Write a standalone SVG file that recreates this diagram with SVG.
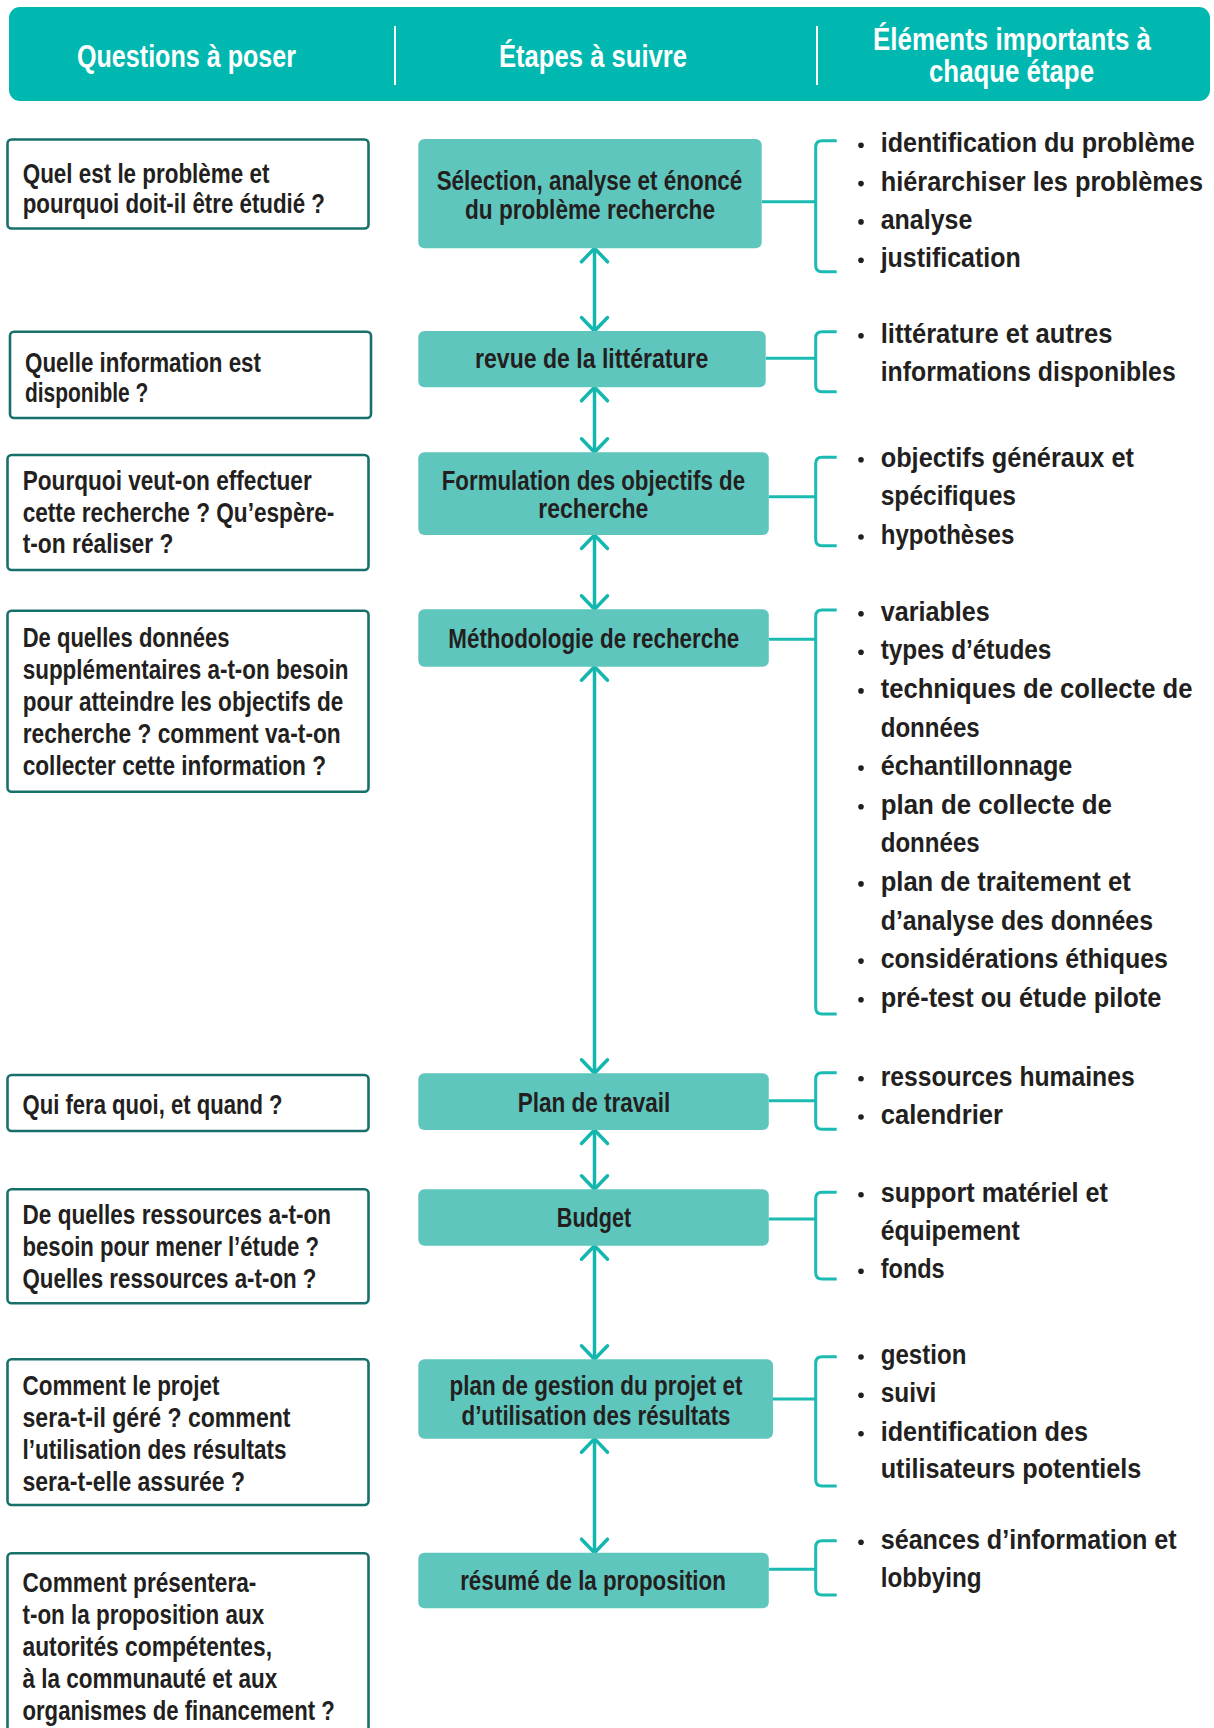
<svg xmlns="http://www.w3.org/2000/svg" width="1214" height="1728" viewBox="0 0 1214 1728">
<style>
text{font-family:"Liberation Sans Narrow","Liberation Sans",Arial,sans-serif;font-weight:bold;}
.hdr{font-size:32px;fill:#ffffff;text-anchor:middle;}
.t{font-size:28px;fill:#231f20;}
.c{text-anchor:middle;}
.q{fill:#ffffff;stroke:#18706b;stroke-width:2.6;}
.s{fill:#5fc6be;}
.arr{stroke:#13b7af;stroke-width:3.5;fill:none;}
.lnk{stroke:#1bbab2;stroke-width:3;fill:none;}
.dot{fill:#231f20;}
</style>
<defs>
<marker id="ah" viewBox="-16 -16 20 32" refX="0" refY="0" markerWidth="20" markerHeight="32" markerUnits="userSpaceOnUse" orient="auto-start-reverse" overflow="visible">
<path d="M-13.5,-13 L0,0 L-13.5,13" fill="none" stroke="#13b7af" stroke-width="3.5" stroke-linecap="round" stroke-linejoin="round"/>
</marker>
</defs>

<g id="header">
<rect x="9" y="7" width="1201" height="94" rx="11" fill="#00b8b0"/>
<line x1="395" y1="26" x2="395" y2="85" stroke="#ffffff" stroke-width="2"/>
<line x1="817" y1="26" x2="817" y2="85" stroke="#ffffff" stroke-width="2"/>
<text class="hdr" x="186.5" y="66.7" textLength="219" lengthAdjust="spacingAndGlyphs">Questions à poser</text>
<text class="hdr" x="593" y="66.7" textLength="188" lengthAdjust="spacingAndGlyphs">Étapes à suivre</text>
<text class="hdr" x="1012" y="49.5" textLength="278" lengthAdjust="spacingAndGlyphs">Éléments importants à</text>
<text class="hdr" x="1011.5" y="81.5" textLength="165" lengthAdjust="spacingAndGlyphs">chaque étape</text>
</g>

<g id="connectors">
<line class="arr" x1="594.5" y1="248.3" x2="594.5" y2="331" marker-start="url(#ah)" marker-end="url(#ah)"/>
<line class="arr" x1="594.5" y1="387.3" x2="594.5" y2="452.3" marker-start="url(#ah)" marker-end="url(#ah)"/>
<line class="arr" x1="594.5" y1="535" x2="594.5" y2="609.3" marker-start="url(#ah)" marker-end="url(#ah)"/>
<line class="arr" x1="594.5" y1="666.7" x2="594.5" y2="1073.3" marker-start="url(#ah)" marker-end="url(#ah)"/>
<line class="arr" x1="594.5" y1="1130" x2="594.5" y2="1189.3" marker-start="url(#ah)" marker-end="url(#ah)"/>
<line class="arr" x1="594.5" y1="1245.7" x2="594.5" y2="1359.3" marker-start="url(#ah)" marker-end="url(#ah)"/>
<line class="arr" x1="594.5" y1="1438.7" x2="594.5" y2="1552.7" marker-start="url(#ah)" marker-end="url(#ah)"/>

<line class="lnk" x1="761.7" y1="201.7" x2="815.7" y2="201.7"/>
<line class="lnk" x1="765.7" y1="358.3" x2="815.7" y2="358.3"/>
<line class="lnk" x1="768.8" y1="496.7" x2="815.7" y2="496.7"/>
<line class="lnk" x1="768.8" y1="639.3" x2="815.7" y2="639.3"/>
<line class="lnk" x1="768.8" y1="1100.7" x2="815.7" y2="1100.7"/>
<line class="lnk" x1="768.8" y1="1219" x2="815.7" y2="1219"/>
<line class="lnk" x1="773" y1="1399" x2="815.7" y2="1399"/>
<line class="lnk" x1="768.8" y1="1569.3" x2="815.7" y2="1569.3"/>

<path class="lnk" d="M836.7,140.7 H822 Q815.7,140.7 815.7,147 V265.4 Q815.7,271.7 822,271.7 H836.7"/>
<path class="lnk" d="M836.7,331.7 H822 Q815.7,331.7 815.7,338 V385.4 Q815.7,391.7 822,391.7 H836.7"/>
<path class="lnk" d="M836.7,457.3 H822 Q815.7,457.3 815.7,463.6 V539.4 Q815.7,545.7 822,545.7 H836.7"/>
<path class="lnk" d="M836.7,610 H822 Q815.7,610 815.7,616.3 V1007.7 Q815.7,1014 822,1014 H836.7"/>
<path class="lnk" d="M836.7,1072.7 H822 Q815.7,1072.7 815.7,1079 V1123 Q815.7,1129.3 822,1129.3 H836.7"/>
<path class="lnk" d="M836.7,1192.3 H822 Q815.7,1192.3 815.7,1198.6 V1272.7 Q815.7,1279 822,1279 H836.7"/>
<path class="lnk" d="M836.7,1356.7 H822 Q815.7,1356.7 815.7,1363 V1479.7 Q815.7,1486 822,1486 H836.7"/>
<path class="lnk" d="M836.7,1540.7 H822 Q815.7,1540.7 815.7,1547 V1588.7 Q815.7,1595 822,1595 H836.7"/>
</g>

<g id="q1"><rect class="q" x="7.5" y="139.5" width="361" height="89" rx="4"/>
<text class="t" x="22.7" y="183.3" textLength="246.7" lengthAdjust="spacingAndGlyphs">Quel est le problème et</text>
<text class="t" x="22.7" y="213" textLength="302.3" lengthAdjust="spacingAndGlyphs">pourquoi doit-il être étudié ?</text></g>

<g id="q2"><rect class="q" x="10" y="331.7" width="361" height="86.3" rx="4"/>
<text class="t" x="25" y="371.7" textLength="236" lengthAdjust="spacingAndGlyphs">Quelle information est</text>
<text class="t" x="25" y="401.7" textLength="123.3" lengthAdjust="spacingAndGlyphs">disponible ?</text></g>

<g id="q3"><rect class="q" x="7.5" y="455" width="361" height="115" rx="4"/>
<text class="t" x="22.7" y="490" textLength="289" lengthAdjust="spacingAndGlyphs">Pourquoi veut-on effectuer</text>
<text class="t" x="22.7" y="521.7" textLength="311.7" lengthAdjust="spacingAndGlyphs">cette recherche ? Qu’espère-</text>
<text class="t" x="22.7" y="553.3" textLength="150.7" lengthAdjust="spacingAndGlyphs">t-on réaliser ?</text></g>

<g id="q4"><rect class="q" x="7.5" y="610.7" width="361" height="181" rx="4"/>
<text class="t" x="22.7" y="646.7" textLength="206.7" lengthAdjust="spacingAndGlyphs">De quelles données</text>
<text class="t" x="22.7" y="679.3" textLength="325.7" lengthAdjust="spacingAndGlyphs">supplémentaires a-t-on besoin</text>
<text class="t" x="22.7" y="710.7" textLength="320.7" lengthAdjust="spacingAndGlyphs">pour atteindre les objectifs de</text>
<text class="t" x="22.7" y="743.3" textLength="318" lengthAdjust="spacingAndGlyphs">recherche ? comment va-t-on</text>
<text class="t" x="22.7" y="775" textLength="303.3" lengthAdjust="spacingAndGlyphs">collecter cette information ?</text></g>

<g id="q5"><rect class="q" x="7.5" y="1075" width="361" height="56" rx="4"/>
<text class="t" x="22.5" y="1114.3" textLength="260" lengthAdjust="spacingAndGlyphs">Qui fera quoi, et quand ?</text></g>

<g id="q6"><rect class="q" x="7.5" y="1189.3" width="361" height="114" rx="4"/>
<text class="t" x="22.5" y="1224.3" textLength="308.6" lengthAdjust="spacingAndGlyphs">De quelles ressources a-t-on</text>
<text class="t" x="22.5" y="1255.7" textLength="296.5" lengthAdjust="spacingAndGlyphs">besoin pour mener l’étude ?</text>
<text class="t" x="22.5" y="1287.7" textLength="294" lengthAdjust="spacingAndGlyphs">Quelles ressources a-t-on ?</text></g>

<g id="q7"><rect class="q" x="7.5" y="1359.3" width="361" height="145.7" rx="4"/>
<text class="t" x="22.5" y="1395" textLength="197" lengthAdjust="spacingAndGlyphs">Comment le projet</text>
<text class="t" x="22.5" y="1427" textLength="268" lengthAdjust="spacingAndGlyphs">sera-t-il géré ? comment</text>
<text class="t" x="22.5" y="1459" textLength="264" lengthAdjust="spacingAndGlyphs">l’utilisation des résultats</text>
<text class="t" x="22.5" y="1491" textLength="222.5" lengthAdjust="spacingAndGlyphs">sera-t-elle assurée ?</text></g>

<g id="q8"><rect class="q" x="7.5" y="1553.3" width="361" height="200" rx="4"/>
<text class="t" x="22.5" y="1591.7" textLength="233.8" lengthAdjust="spacingAndGlyphs">Comment présentera-</text>
<text class="t" x="22.5" y="1624" textLength="241.6" lengthAdjust="spacingAndGlyphs">t-on la proposition aux</text>
<text class="t" x="22.5" y="1656" textLength="249.5" lengthAdjust="spacingAndGlyphs">autorités compétentes,</text>
<text class="t" x="22.5" y="1688.3" textLength="254.7" lengthAdjust="spacingAndGlyphs">à la communauté et aux</text>
<text class="t" x="22.5" y="1720" textLength="312.2" lengthAdjust="spacingAndGlyphs">organismes de financement ?</text></g>

<g id="s1"><rect class="s" x="418.3" y="139" width="343.4" height="109.3" rx="6"/>
<text class="t c" x="589.5" y="190" textLength="305.7" lengthAdjust="spacingAndGlyphs">Sélection, analyse et énoncé</text>
<text class="t c" x="590" y="219" textLength="250" lengthAdjust="spacingAndGlyphs">du problème recherche</text></g>

<g id="s2"><rect class="s" x="418.3" y="331" width="347.4" height="56.3" rx="6"/>
<text class="t c" x="591.7" y="368.3" textLength="233.3" lengthAdjust="spacingAndGlyphs">revue de la littérature</text></g>

<g id="s3"><rect class="s" x="418.3" y="452.3" width="350.5" height="82.7" rx="6"/>
<text class="t c" x="593.4" y="490" textLength="303.3" lengthAdjust="spacingAndGlyphs">Formulation des objectifs de</text>
<text class="t c" x="593.3" y="518.3" textLength="110" lengthAdjust="spacingAndGlyphs">recherche</text></g>

<g id="s4"><rect class="s" x="418.3" y="609.3" width="350.5" height="57.4" rx="6"/>
<text class="t c" x="593.8" y="648.3" textLength="291" lengthAdjust="spacingAndGlyphs">Méthodologie de recherche</text></g>

<g id="s5"><rect class="s" x="418.3" y="1073.3" width="350.5" height="56.7" rx="6"/>
<text class="t c" x="594" y="1111.7" textLength="152.7" lengthAdjust="spacingAndGlyphs">Plan de travail</text></g>

<g id="s6"><rect class="s" x="418.3" y="1189.3" width="350.5" height="56.4" rx="6"/>
<text class="t c" x="594" y="1226.7" textLength="74.3" lengthAdjust="spacingAndGlyphs">Budget</text></g>

<g id="s7"><rect class="s" x="418.3" y="1359.3" width="354.7" height="79.4" rx="6"/>
<text class="t c" x="596" y="1395" textLength="293" lengthAdjust="spacingAndGlyphs">plan de gestion du projet et</text>
<text class="t c" x="596" y="1424.5" textLength="269" lengthAdjust="spacingAndGlyphs">d’utilisation des résultats</text></g>

<g id="s8"><rect class="s" x="418.3" y="1552.7" width="350.5" height="55.6" rx="6"/>
<text class="t c" x="593" y="1590" textLength="265.7" lengthAdjust="spacingAndGlyphs">résumé de la proposition</text></g>

<g id="e1">
<circle class="dot" cx="861" cy="145.3" r="2.8"/><text class="t" x="880.7" y="152.3" textLength="314" lengthAdjust="spacingAndGlyphs">identification du problème</text>
<circle class="dot" cx="861" cy="183.6" r="2.8"/><text class="t" x="880.7" y="190.6" textLength="322.3" lengthAdjust="spacingAndGlyphs">hiérarchiser les problèmes</text>
<circle class="dot" cx="861" cy="221.9" r="2.8"/><text class="t" x="880.7" y="228.9" textLength="91.7" lengthAdjust="spacingAndGlyphs">analyse</text>
<circle class="dot" cx="861" cy="260.2" r="2.8"/><text class="t" x="880.7" y="267.2" textLength="140" lengthAdjust="spacingAndGlyphs">justification</text>
</g>

<g id="e2">
<circle class="dot" cx="861" cy="335.7" r="2.8"/><text class="t" x="880.7" y="342.7" textLength="231.7" lengthAdjust="spacingAndGlyphs">littérature et autres</text>
<text class="t" x="880.7" y="380.7" textLength="295" lengthAdjust="spacingAndGlyphs">informations disponibles</text>
</g>

<g id="e3">
<circle class="dot" cx="861" cy="459.7" r="2.8"/><text class="t" x="880.7" y="466.7" textLength="253.3" lengthAdjust="spacingAndGlyphs">objectifs généraux et</text>
<text class="t" x="880.7" y="505.3" textLength="135.3" lengthAdjust="spacingAndGlyphs">spécifiques</text>
<circle class="dot" cx="861" cy="537" r="2.8"/><text class="t" x="880.7" y="544" textLength="133.7" lengthAdjust="spacingAndGlyphs">hypothèses</text>
</g>

<g id="e4">
<circle class="dot" cx="861" cy="613.7" r="2.8"/><text class="t" x="880.7" y="620.7" textLength="109" lengthAdjust="spacingAndGlyphs">variables</text>
<circle class="dot" cx="861" cy="652.3" r="2.8"/><text class="t" x="880.7" y="659.3" textLength="170.7" lengthAdjust="spacingAndGlyphs">types d’études</text>
<circle class="dot" cx="861" cy="690.9" r="2.8"/><text class="t" x="880.7" y="697.9" textLength="311.7" lengthAdjust="spacingAndGlyphs">techniques de collecte de</text>
<text class="t" x="880.7" y="736.5" textLength="99" lengthAdjust="spacingAndGlyphs">données</text>
<circle class="dot" cx="861" cy="768.1" r="2.8"/><text class="t" x="880.7" y="775.1" textLength="191.7" lengthAdjust="spacingAndGlyphs">échantillonnage</text>
<circle class="dot" cx="861" cy="806.7" r="2.8"/><text class="t" x="880.7" y="813.7" textLength="231.3" lengthAdjust="spacingAndGlyphs">plan de collecte de</text>
<text class="t" x="880.7" y="852.3" textLength="99" lengthAdjust="spacingAndGlyphs">données</text>
<circle class="dot" cx="861" cy="883.9" r="2.8"/><text class="t" x="880.7" y="890.9" textLength="250" lengthAdjust="spacingAndGlyphs">plan de traitement et</text>
<text class="t" x="880.7" y="929.5" textLength="272.3" lengthAdjust="spacingAndGlyphs">d’analyse des données</text>
<circle class="dot" cx="861" cy="961.1" r="2.8"/><text class="t" x="880.7" y="968.1" textLength="287.3" lengthAdjust="spacingAndGlyphs">considérations éthiques</text>
<circle class="dot" cx="861" cy="999.7" r="2.8"/><text class="t" x="880.7" y="1006.7" textLength="280.7" lengthAdjust="spacingAndGlyphs">pré-test ou étude pilote</text>
</g>

<g id="e5">
<circle class="dot" cx="861" cy="1078.7" r="2.8"/><text class="t" x="880.7" y="1085.7" textLength="254" lengthAdjust="spacingAndGlyphs">ressources humaines</text>
<circle class="dot" cx="861" cy="1117" r="2.8"/><text class="t" x="880.7" y="1124" textLength="122.3" lengthAdjust="spacingAndGlyphs">calendrier</text>
</g>

<g id="e6">
<circle class="dot" cx="861" cy="1194.7" r="2.8"/><text class="t" x="880.7" y="1201.7" textLength="227.3" lengthAdjust="spacingAndGlyphs">support matériel et</text>
<text class="t" x="880.7" y="1240" textLength="139" lengthAdjust="spacingAndGlyphs">équipement</text>
<circle class="dot" cx="861" cy="1271.3" r="2.8"/><text class="t" x="880.7" y="1278.3" textLength="64" lengthAdjust="spacingAndGlyphs">fonds</text>
</g>

<g id="e7">
<circle class="dot" cx="861" cy="1357" r="2.8"/><text class="t" x="880.7" y="1364" textLength="85.7" lengthAdjust="spacingAndGlyphs">gestion</text>
<circle class="dot" cx="861" cy="1395.3" r="2.8"/><text class="t" x="880.7" y="1402.3" textLength="55.7" lengthAdjust="spacingAndGlyphs">suivi</text>
<circle class="dot" cx="861" cy="1433.7" r="2.8"/><text class="t" x="880.7" y="1440.7" textLength="207.3" lengthAdjust="spacingAndGlyphs">identification des</text>
<text class="t" x="880.7" y="1478.3" textLength="260.7" lengthAdjust="spacingAndGlyphs">utilisateurs potentiels</text>
</g>

<g id="e8">
<circle class="dot" cx="861" cy="1542.3" r="2.8"/><text class="t" x="880.7" y="1549.3" textLength="296" lengthAdjust="spacingAndGlyphs">séances d’information et</text>
<text class="t" x="880.7" y="1587.3" textLength="101" lengthAdjust="spacingAndGlyphs">lobbying</text>
</g>
</svg>
